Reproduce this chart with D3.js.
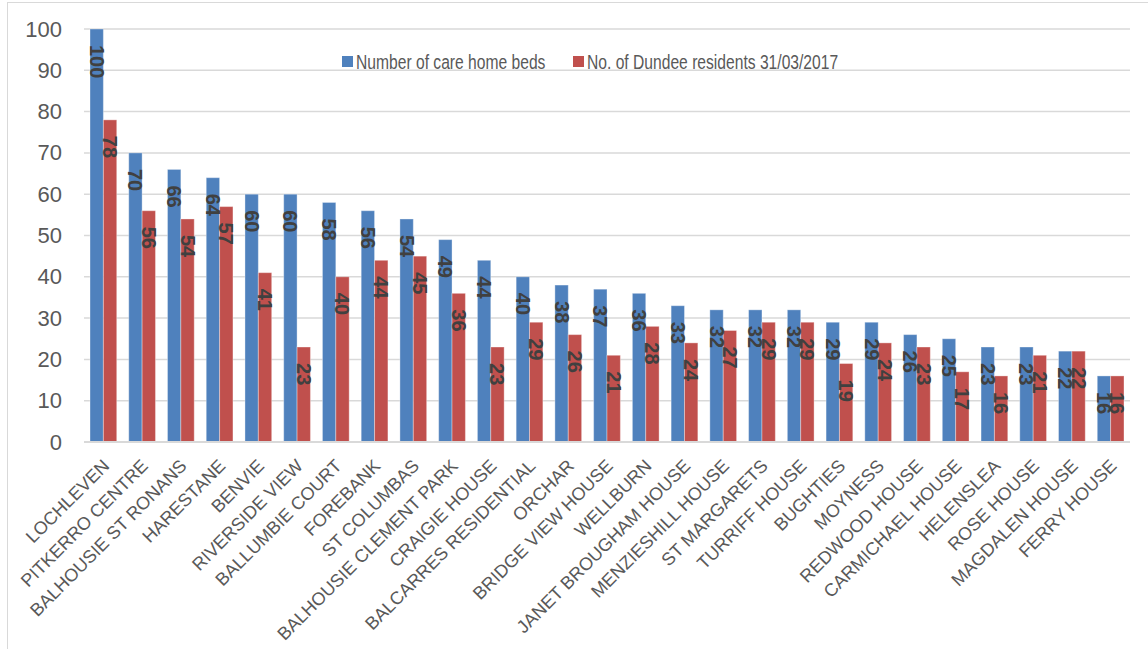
<!DOCTYPE html>
<html>
<head>
<meta charset="utf-8">
<script src="https://cdn.jsdelivr.net/npm/d3@7"></script>
<style>
  html, body { margin: 0; padding: 0; background: #fff; }
  svg { display: block; }
</style>
</head>
<body>
<svg id="chart" width="1148" height="649"></svg>
<script>
const categories = ["LOCHLEVEN","PITKERRO CENTRE","BALHOUSIE ST RONANS","HARESTANE","BENVIE","RIVERSIDE VIEW","BALLUMBIE COURT","FOREBANK","ST COLUMBAS","BALHOUSIE CLEMENT PARK","CRAIGIE HOUSE","BALCARRES RESIDENTIAL","ORCHAR","BRIDGE VIEW HOUSE","WELLBURN","JANET BROUGHAM HOUSE","MENZIESHILL HOUSE","ST MARGARETS","TURRIFF HOUSE","BUGHTIES","MOYNESS","REDWOOD HOUSE","CARMICHAEL HOUSE","HELENSLEA","ROSE HOUSE","MAGDALEN HOUSE","FERRY HOUSE"];
const careHomeBeds = [100,70,66,64,60,60,58,56,54,49,44,40,38,37,36,33,32,32,32,29,29,26,25,23,23,22,16];
const dundeeResidents = [78,56,54,57,41,23,40,44,45,36,23,29,26,21,28,24,27,29,29,19,24,23,17,16,21,22,16];
const seriesNames = ["Number of care home beds","No. of Dundee residents 31/03/2017"];
const seriesColors = ["#4F81BD","#C0504D"];
const yTicks = [0,10,20,30,40,50,60,70,80,90,100];

const svg = d3.select("#chart");
const plot = {left: 84, right: 1130, top: 29, bottom: 442};
const FONT = "'Liberation Sans', Arial, sans-serif";

// outer chart border
svg.append("rect").attr("x", 7.5).attr("y", 2.5).attr("width", 1160).attr("height", 660)
  .attr("fill", "none").attr("stroke", "#d9d9d9").attr("stroke-width", 1);

const y = d3.scaleLinear().domain([0, 100]).range([plot.bottom, plot.top]);
const x0 = d3.scaleBand().domain(categories).range([plot.left, plot.right])
  .paddingInner(0.31).paddingOuter(0.155);
const x1 = d3.scaleBand().domain([0, 1]).range([0, x0.bandwidth()]);

// gridlines
svg.append("g").selectAll("line").data(yTicks.filter(d => d > 0)).join("line")
  .attr("x1", plot.left).attr("x2", plot.right)
  .attr("y1", d => y(d)).attr("y2", d => y(d))
  .attr("stroke", "#d9d9d9").attr("stroke-width", 1.5);

// y axis
const yAxis = d3.axisLeft(y).tickValues(yTicks).tickSize(0).tickPadding(22);
const gy = svg.append("g").attr("transform", `translate(${plot.left},0)`).call(yAxis);
gy.select(".domain").remove();
gy.selectAll("text").attr("font-family", FONT).attr("font-size", 22).attr("fill", "#595959");

const data = categories.map((c, i) => ({cat: c, vals: [careHomeBeds[i], dundeeResidents[i]]}));

const groups = svg.append("g").selectAll("g").data(data).join("g")
  .attr("transform", d => `translate(${x0(d.cat)},0)`);

groups.selectAll("rect").data(d => d.vals.map((v, k) => ({v, k}))).join("rect")
  .attr("x", d => x1(d.k)).attr("width", x1.bandwidth())
  .attr("y", d => y(d.v)).attr("height", d => y(0) - y(d.v))
  .attr("fill", d => seriesColors[d.k])
  .attr("stroke", "rgba(255,255,255,0.35)").attr("stroke-width", 1);

groups.selectAll("text").data(d => d.vals.map((v, k) => ({v, k}))).join("text")
  .attr("transform", d => `translate(${x1(d.k) + x1.bandwidth() / 2},${y(d.v) + 16}) rotate(90)`)
  .attr("dominant-baseline", "central")
  .attr("text-anchor", "start")
  .attr("font-family", FONT).attr("font-size", 20).attr("font-weight", "bold")
  .attr("fill", "#404040")
  .text(d => d.v);

// x axis line
svg.append("line").attr("x1", plot.left).attr("x2", plot.right)
  .attr("y1", plot.bottom).attr("y2", plot.bottom)
  .attr("stroke", "#d9d9d9").attr("stroke-width", 2);

// x labels
const xAxis = d3.axisBottom(x0).tickSize(0).tickPadding(0);
const gx = svg.append("g").attr("transform", `translate(0,${plot.bottom})`).call(xAxis);
gx.select(".domain").remove();
gx.selectAll("text")
  .attr("font-family", FONT).attr("font-size", 18).attr("fill", "#595959")
  .attr("text-anchor", "end").attr("dy", 0).attr("y", 0)
  .attr("transform", "translate(7,25) rotate(-45)");

// legend
const legendX = [342, 573];
const legend = svg.append("g").selectAll("g").data(seriesNames).join("g")
  .attr("transform", (d, i) => `translate(${legendX[i]},55)`);
legend.append("rect").attr("width", 11).attr("height", 11).attr("y", 1)
  .attr("fill", (d, i) => seriesColors[i]);
legend.append("text").attr("x", 14).attr("y", 13.5)
  .attr("font-family", FONT).attr("font-size", 21).attr("fill", "#595959")
  .attr("transform", "translate(14,0) scale(0.745,1) translate(-14,0)")
  .text(d => d);
</script>
</body>
</html>
